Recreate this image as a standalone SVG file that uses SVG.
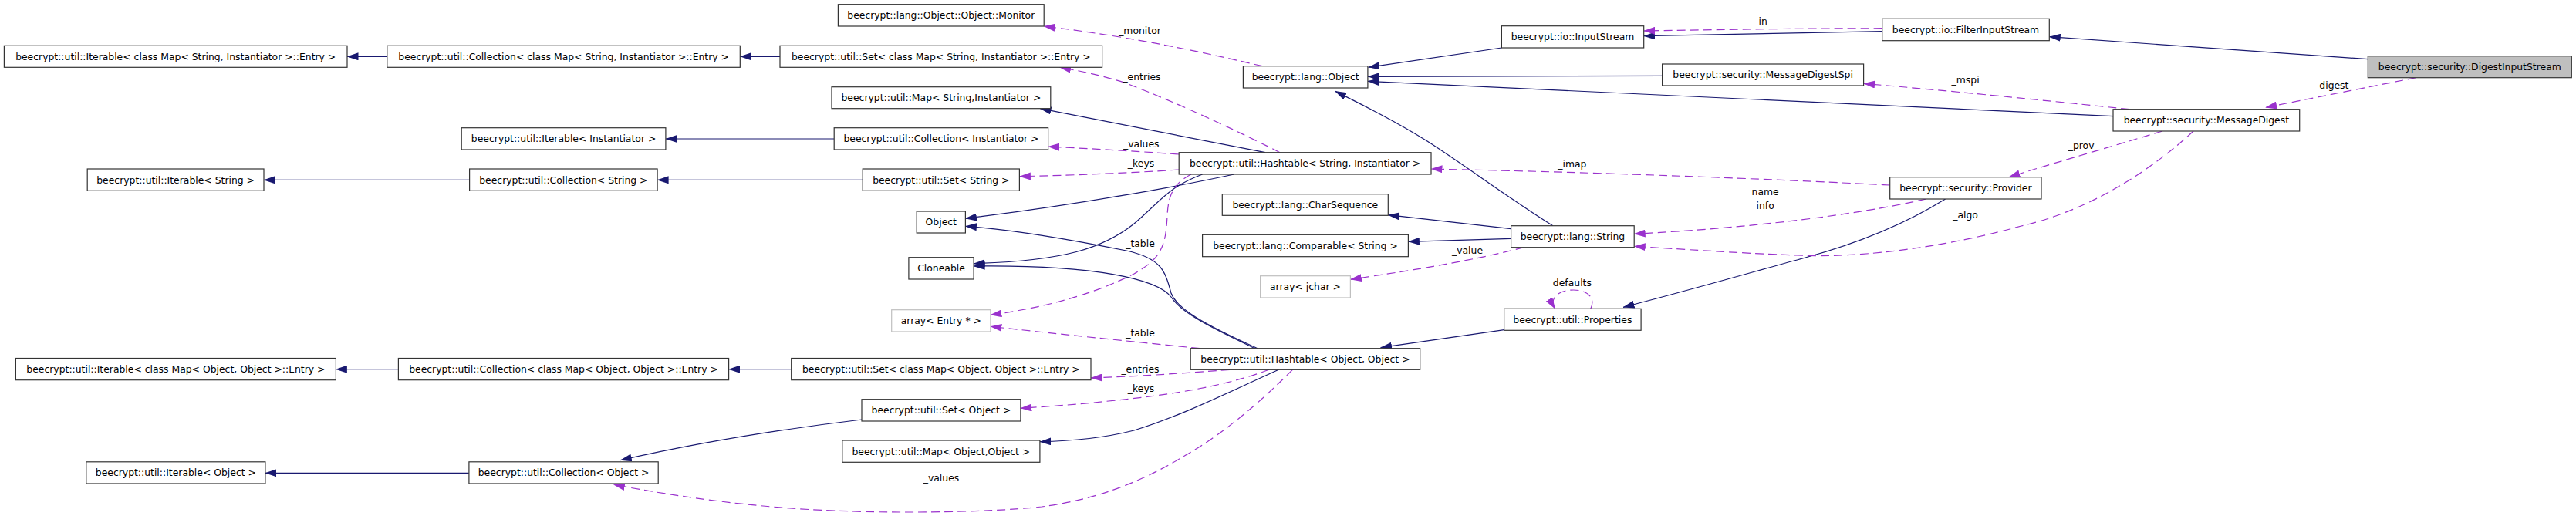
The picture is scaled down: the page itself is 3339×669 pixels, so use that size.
<svg xmlns="http://www.w3.org/2000/svg" width="3339" height="669" viewBox="0 0 3339 669">
<style>
rect{fill:#fff;stroke:#333;stroke-width:1.2}
.g rect{stroke:#bfbfbf}
.hl rect{fill:#bfbfbf}
text{font-family:"DejaVu Sans",sans-serif;font-size:12.4px;text-anchor:middle;fill:#000}
#edges path{fill:none;stroke-width:1.2}
.inh{stroke:#191970;marker-end:url(#ai)}
.use{stroke:#9a32cd;stroke-dasharray:11,6;marker-end:url(#au)}
</style>
<defs>
<marker id="ai" viewBox="0 0 15 10" refX="14.5" refY="5" markerWidth="15" markerHeight="10" markerUnits="userSpaceOnUse" orient="auto"><path d="M0,0 L15,5 L0,10 z" fill="#191970"/></marker>
<marker id="au" viewBox="0 0 15 10" refX="14.5" refY="5" markerWidth="15" markerHeight="10" markerUnits="userSpaceOnUse" orient="auto"><path d="M0,0 L15,5 L0,10 z" fill="#9a32cd"/></marker>
</defs>
<rect x="0" y="0" width="3339" height="669" style="fill:#fff;stroke:none"/>
<g id="edges">
<path class="inh" d="M501.8,73.3 L450,73.3"/>
<path class="inh" d="M1011,73.3 L959.3,73.3"/>
<path class="inh" d="M608.6,233.3 L342,233.3"/>
<path class="inh" d="M1118.2,233.3 L852.1,233.3"/>
<path class="inh" d="M1081.2,180 L862.9,180"/>
<path class="inh" d="M1640,197.7 L1348,140.7"/>
<path class="inh" d="M1599.6,226 C1530,241 1400,265 1251.4,283.3"/>
<path class="inh" d="M1558.6,226 C1515,242 1505,260 1470,290 C1430,322 1380,338 1262.1,341.7"/>
<path class="inh" d="M1630,451.7 C1560,420 1525,400 1518,380 C1510,350 1505,335 1460,325 C1400,313 1320,298 1251.4,293.3"/>
<path class="inh" d="M1626.4,451.7 C1570,425 1530,405 1518,385 C1500,362 1420,343 1262.1,345"/>
<path class="inh" d="M2012.9,292.7 C1960,260 1900,215 1850,183 C1810,158 1770,138 1730.7,118.3"/>
<path class="inh" d="M1958.6,296.7 L1799.3,278.7"/>
<path class="inh" d="M1958.6,309.3 L1825.4,313.3"/>
<path class="inh" d="M1946.4,62 L1773.6,87.3"/>
<path class="inh" d="M2154.6,98.3 L1772.9,99.3"/>
<path class="inh" d="M2739,150.7 L1772.9,105.3"/>
<path class="inh" d="M2439.7,40.7 L2130.7,46.7"/>
<path class="inh" d="M3069.3,76.7 L2656.3,47.7"/>
<path class="inh" d="M2521.6,258 C2470,290 2410,315 2340,334 C2260,356 2180,379 2104,398.3"/>
<path class="inh" d="M1949.6,427.7 L1789.6,450.7"/>
<path class="inh" d="M1657.5,479.3 C1600,505 1530,540 1470,558 C1430,568 1390,572 1347.9,572.7"/>
<path class="inh" d="M1117,544 C1000,558 900,575 804.3,596.7"/>
<path class="inh" d="M607.9,613.3 L343.9,613.3"/>
<path class="inh" d="M516.4,478.7 L435.4,478.7"/>
<path class="inh" d="M1025.7,478.7 L944.6,478.7"/>
<path class="use" d="M1636,85.7 C1560,68 1470,48 1353,34"/>
<path class="use" d="M1659,197.7 C1600,168 1530,135 1460,108 C1430,98 1400,92 1373.6,87.3"/>
<path class="use" d="M1528.2,200 C1470,196 1420,193 1358.6,190"/>
<path class="use" d="M1528.2,220 C1470,224 1400,227 1321.4,228.7"/>
<path class="use" d="M1544,226 C1520,238 1514,255 1513,280 C1511,320 1505,335 1470,355 C1420,380 1360,398 1283.9,408.3"/>
<path class="use" d="M1555,451.7 C1470,443 1380,434 1283.9,423.3"/>
<path class="use" d="M1594,479.3 C1520,485 1470,488 1414,490"/>
<path class="use" d="M1645,479.3 C1590,500 1520,512 1437,520 C1400,524 1360,527 1322.9,529.3"/>
<path class="use" d="M1675.4,479.3 C1640,515 1590,560 1537,590 C1480,625 1420,648 1350,657 C1280,665 1150,665 1100,662.7 C1000,660 900,648 795.4,628.3"/>
<path class="use" d="M1975.4,320.7 C1900,340 1820,352 1750.4,362.3"/>
<path class="use" d="M2061.8,400.3 C2068,388 2060,376 2039.6,376 C2018,376 2008,388 2015.7,400.3"/>
<path class="use" d="M2449.7,240 C2250,230 2050,223 1855,219"/>
<path class="use" d="M2496.7,258 C2400,280 2260,296 2118.2,303.3"/>
<path class="use" d="M2843.1,170 C2800,210 2720,270 2620,293 C2530,318 2420,335 2330,331 C2250,328 2180,323 2118.2,319.3"/>
<path class="use" d="M2760,141.7 C2650,130 2530,118 2415.6,108.3"/>
<path class="use" d="M2803,170 C2720,195 2650,215 2603.9,229.7"/>
<path class="use" d="M2439.7,36.7 C2300,37 2200,39 2130.7,40"/>
<path class="use" d="M3131.6,100.7 L2936.7,139.3"/>
<text x="1477.5" y="43.7">_monitor</text>
<text x="1480" y="103.7">_entries</text>
<text x="1479.3" y="191.1">_values</text>
<text x="1479" y="216.1">_keys</text>
<text x="1478" y="319.7">_table</text>
<text x="1478" y="435.7">_table</text>
<text x="1478" y="482.7">_entries</text>
<text x="1479" y="507.7">_keys</text>
<text x="1220" y="623.7">_values</text>
<text x="1902" y="328.7">_value</text>
<text x="2037.9" y="371.1">defaults</text>
<text x="2037.9" y="217.1">_imap</text>
<text x="2285" y="253.1">_name</text>
<text x="2285" y="271.1">_info</text>
<text x="2547.6" y="283.1">_algo</text>
<text x="2547.6" y="107.7">_mspi</text>
<text x="2697.6" y="193.4">_prov</text>
<text x="2285.1" y="32.1">in</text>
<text x="3025.4" y="115.1">digest</text>
</g>
<g id="n1"><rect x="5.4" y="59.3" width="444.6" height="28"/><text x="227.7" y="77.7">beecrypt::util::Iterable&lt; class Map&lt; String, Instantiator &gt;::Entry &gt;</text></g>
<g id="n2"><rect x="501.8" y="59.3" width="457.5" height="28"/><text x="730.6" y="77.7">beecrypt::util::Collection&lt; class Map&lt; String, Instantiator &gt;::Entry &gt;</text></g>
<g id="n3"><rect x="1011" y="59.3" width="417.6" height="28"/><text x="1219.8" y="77.7">beecrypt::util::Set&lt; class Map&lt; String, Instantiator &gt;::Entry &gt;</text></g>
<g id="n4"><rect x="1086.4" y="5.7" width="266.8" height="28.3"/><text x="1219.8" y="24.2">beecrypt::lang::Object::Object::Monitor</text></g>
<g id="n5"><rect x="1078" y="112.7" width="283.8" height="28"/><text x="1219.9" y="131.1">beecrypt::util::Map&lt; String,Instantiator &gt;</text></g>
<g id="n6"><rect x="598.2" y="165.7" width="264.7" height="28.3"/><text x="730.6" y="184.2">beecrypt::util::Iterable&lt; Instantiator &gt;</text></g>
<g id="n7"><rect x="1081.2" y="165.7" width="277.4" height="28.3"/><text x="1219.9" y="184.2">beecrypt::util::Collection&lt; Instantiator &gt;</text></g>
<g id="n8"><rect x="113.2" y="219" width="228.8" height="28.3"/><text x="227.6" y="237.5">beecrypt::util::Iterable&lt; String &gt;</text></g>
<g id="n9"><rect x="608.6" y="219" width="243.5" height="28.3"/><text x="730.35" y="237.5">beecrypt::util::Collection&lt; String &gt;</text></g>
<g id="n10"><rect x="1118.2" y="219" width="203.2" height="28.3"/><text x="1219.8" y="237.5">beecrypt::util::Set&lt; String &gt;</text></g>
<g id="n11"><rect x="1528.2" y="197.7" width="326.8" height="28.3"/><text x="1691.6" y="216.2">beecrypt::util::Hashtable&lt; String, Instantiator &gt;</text></g>
<g id="n12"><rect x="1188.2" y="274" width="63.2" height="28"/><text x="1219.8" y="292.4">Object</text></g>
<g id="n13"><rect x="1177.9" y="333.7" width="84.2" height="28.3"/><text x="1220" y="352.2">Cloneable</text></g>
<g id="n14" class="g"><rect x="1155.7" y="401.7" width="128.2" height="28.3"/><text x="1219.8" y="420.2">array&lt; Entry * &gt;</text></g>
<g id="n15"><rect x="1025.7" y="464.5" width="388.3" height="28.2"/><text x="1219.85" y="482.9">beecrypt::util::Set&lt; class Map&lt; Object, Object &gt;::Entry &gt;</text></g>
<g id="n16"><rect x="516.4" y="464.5" width="428.2" height="28.2"/><text x="730.5" y="482.9">beecrypt::util::Collection&lt; class Map&lt; Object, Object &gt;::Entry &gt;</text></g>
<g id="n17"><rect x="20.4" y="464.5" width="415" height="28.2"/><text x="227.9" y="482.9">beecrypt::util::Iterable&lt; class Map&lt; Object, Object &gt;::Entry &gt;</text></g>
<g id="n18"><rect x="1117" y="517.7" width="205.9" height="28.3"/><text x="1219.95" y="536.2">beecrypt::util::Set&lt; Object &gt;</text></g>
<g id="n19"><rect x="1091.8" y="571" width="256.1" height="28.3"/><text x="1219.85" y="589.5">beecrypt::util::Map&lt; Object,Object &gt;</text></g>
<g id="n20"><rect x="607.9" y="598.8" width="245.3" height="28.2"/><text x="730.55" y="617.3">beecrypt::util::Collection&lt; Object &gt;</text></g>
<g id="n21"><rect x="111.8" y="598.8" width="232.1" height="28.2"/><text x="227.85" y="617.3">beecrypt::util::Iterable&lt; Object &gt;</text></g>
<g id="n22"><rect x="1543.2" y="451.7" width="297.5" height="27.6"/><text x="1691.95" y="469.9">beecrypt::util::Hashtable&lt; Object, Object &gt;</text></g>
<g id="n23"><rect x="1611.4" y="85.7" width="161.5" height="28.3"/><text x="1692.15" y="104.2">beecrypt::lang::Object</text></g>
<g id="n24"><rect x="1946.4" y="33.7" width="184.3" height="28.3"/><text x="2038.55" y="52.2">beecrypt::io::InputStream</text></g>
<g id="n25"><rect x="1584.3" y="251.7" width="215" height="27.6"/><text x="1691.8" y="269.9">beecrypt::lang::CharSequence</text></g>
<g id="n26"><rect x="1558.6" y="304.3" width="266.8" height="28.4"/><text x="1692" y="322.9">beecrypt::lang::Comparable&lt; String &gt;</text></g>
<g id="n27"><rect x="1958.6" y="292.7" width="159.6" height="28"/><text x="2038.4" y="311.1">beecrypt::lang::String</text></g>
<g id="n28" class="g"><rect x="1633.6" y="357.7" width="116.8" height="28.3"/><text x="1692" y="376.2">array&lt; jchar &gt;</text></g>
<g id="n29"><rect x="1949.6" y="400.3" width="177.5" height="28"/><text x="2038.35" y="418.7">beecrypt::util::Properties</text></g>
<g id="n30"><rect x="2439.7" y="24.3" width="216.6" height="28.4"/><text x="2548" y="42.9">beecrypt::io::FilterInputStream</text></g>
<g id="n31"><rect x="2154.6" y="83" width="261" height="28"/><text x="2285.1" y="101.4">beecrypt::security::MessageDigestSpi</text></g>
<g id="n32"><rect x="2739" y="141.7" width="241.7" height="28.3"/><text x="2859.85" y="160.2">beecrypt::security::MessageDigest</text></g>
<g id="n33"><rect x="2449.7" y="229.7" width="196.3" height="28.3"/><text x="2547.85" y="248.2">beecrypt::security::Provider</text></g>
<g id="n34" class="hl"><rect x="3069.3" y="72.7" width="264" height="28"/><text x="3201.3" y="91.1">beecrypt::security::DigestInputStream</text></g>
</svg>
